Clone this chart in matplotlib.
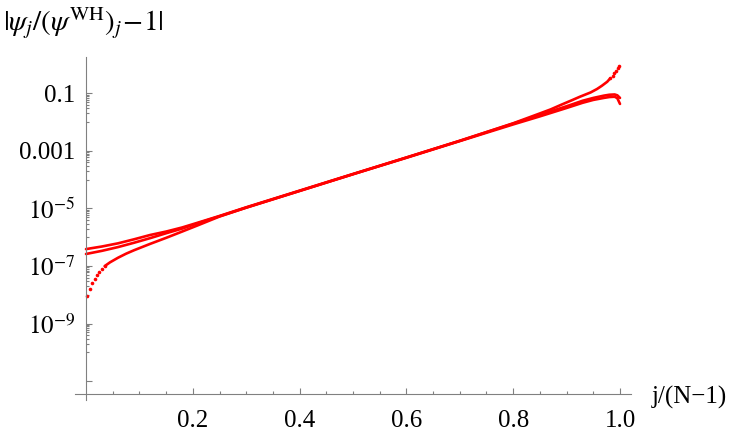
import numpy as np
import matplotlib
matplotlib.use("Agg")
import matplotlib.pyplot as plt
from matplotlib.ticker import FixedLocator, FixedFormatter, NullFormatter

plt.rcParams['font.family'] = ['Liberation Serif', 'DejaVu Serif']
plt.rcParams['mathtext.fontset'] = 'stix'

# curve that starts highest at j/(N-1)=0 and hooks down near 1
x_a = [0, 0.03, 0.06, 0.09, 0.12, 0.15, 0.18, 0.21, 0.25, 0.3, 0.4, 0.5, 0.6, 0.7,
       0.8, 0.85, 0.9, 0.93, 0.95, 0.97, 0.98, 0.99, 0.995, 1.0]
y_a = [3.89e-7, 4.79e-7, 6.17e-7, 8.51e-7, 1.20e-6, 1.58e-6, 2.19e-6, 3.24e-6, 5.50e-6,
       1.10e-5, 4.17e-5, 1.58e-4, 5.89e-4, 2.24e-3, 8.9e-3, 0.0178, 0.0355, 0.055,
       0.069, 0.083, 0.089, 0.091, 0.085, 0.069]

# second curve, slightly lower on both ends
x_b = x_a
y_b = [2.63e-7, 3.39e-7, 4.57e-7, 6.46e-7, 9.33e-7, 1.38e-6, 2.00e-6, 3.09e-6, 5.37e-6,
       1.07e-5, 4.07e-5, 1.55e-4, 5.75e-4, 2.19e-3, 8.3e-3, 0.0158, 0.0309, 0.0468,
       0.0589, 0.0692, 0.0741, 0.0759, 0.0676, 0.0427]

# third curve: dips at the left end, shoots up at the right end
x_c = [0.0025, 0.0075, 0.012, 0.016, 0.02, 0.025, 0.03, 0.035, 0.045, 0.06, 0.075, 0.09,
       0.12, 0.15, 0.18, 0.21, 0.25, 0.3, 0.4, 0.5, 0.6, 0.7, 0.8, 0.85, 0.87, 0.89, 0.91,
       0.925, 0.945, 0.957, 0.966, 0.976, 0.9818, 0.9861, 0.9893, 0.9925, 0.9955, 0.9987]
y_c = [9.3e-9, 1.58e-8, 2.51e-8, 3.55e-8, 4.90e-8, 6.46e-8, 7.94e-8, 1.00e-7, 1.35e-7,
       1.95e-7, 2.69e-7, 3.55e-7, 5.89e-7, 9.55e-7, 1.58e-6, 2.63e-6, 5.25e-6, 1.07e-5,
       4.07e-5, 1.55e-4, 5.89e-4, 2.24e-3, 9.1e-3, 0.020, 0.0275, 0.040, 0.0575, 0.076,
       0.107, 0.141, 0.182, 0.251, 0.331, 0.407, 0.490, 0.589, 0.741, 0.912]

x_ticks = [0.2, 0.4, 0.6, 0.8, 1.0]
x_ticklabels = ['0.2', '0.4', '0.6', '0.8', '1.0']
y_ticks = [1e-1, 1e-3, 1e-5, 1e-7, 1e-9, 1e-11]
y_ticklabels = ['0.1', '0.001', '$10^{-5}$', '$10^{-7}$', '$10^{-9}$', '']

axis_grey = '#808080'

fig = plt.figure(figsize=(7.47, 4.36), dpi=100)
ax = fig.add_axes([75/747, 36/436, 556/747, 343/436])

ax.plot(x_a, y_a, color='red', lw=1.9, solid_capstyle='round', solid_joinstyle='round')
ax.plot(x_b, y_b, color='red', lw=1.9, solid_capstyle='round', solid_joinstyle='round')
ax.plot(x_c[7:-5], y_c[7:-5], color='red', lw=1.9, solid_capstyle='round',
        solid_joinstyle='round')
# the ends of the third curve are loose dots
ax.plot(x_c[:8], y_c[:8], 'o', color='red', ms=2.6, mec='none')
ax.plot(x_c[-6:], y_c[-6:], 'o', color='red', ms=2.6, mec='none')

ax.set_yscale('log')
ax.set_xlim(-0.0206, 1.0206)
ax.set_ylim(10**-11.65, 10**0.26)

# Mathematica-like axes crossing at the origin
ax.spines['left'].set_position(('data', 0))
ax.spines['bottom'].set_position(('data', 10**-11.45))
ax.spines['top'].set_visible(False)
ax.spines['right'].set_visible(False)
for s in ['left', 'bottom']:
    ax.spines[s].set_color(axis_grey)
    ax.spines[s].set_linewidth(0.8)

ax.xaxis.set_major_locator(FixedLocator(x_ticks))
ax.xaxis.set_major_formatter(FixedFormatter(x_ticklabels))
ax.xaxis.set_minor_locator(FixedLocator(np.arange(0.05, 1.0, 0.05)))

minor_y = []
for t in y_ticks[:-1]:
    for k in range(1, 10):
        minor_y.append(k * t / 10)
ax.yaxis.set_major_locator(FixedLocator(y_ticks))
ax.yaxis.set_major_formatter(FixedFormatter(y_ticklabels))
ax.yaxis.set_minor_locator(FixedLocator(minor_y))
ax.yaxis.set_minor_formatter(NullFormatter())

ax.tick_params(which='both', direction='in', color=axis_grey, width=0.8,
               labelsize=18, labelcolor='black')
ax.tick_params(which='major', length=4.3)
ax.tick_params(which='minor', length=2.3)
ax.tick_params(axis='x', pad=11)
ax.tick_params(axis='y', pad=8)

fig.text(3/747, 1 - 23/436, r'$|\psi_j/(\psi^{\mathrm{WH}})_j\!-\!1|$',
         ha='left', va='center', fontsize=21)
fig.text(652/747, 1 - 397/436, 'j/(N\u22121)', ha='left', va='center', fontsize=18)

fig.savefig('out.png', dpi=100)
